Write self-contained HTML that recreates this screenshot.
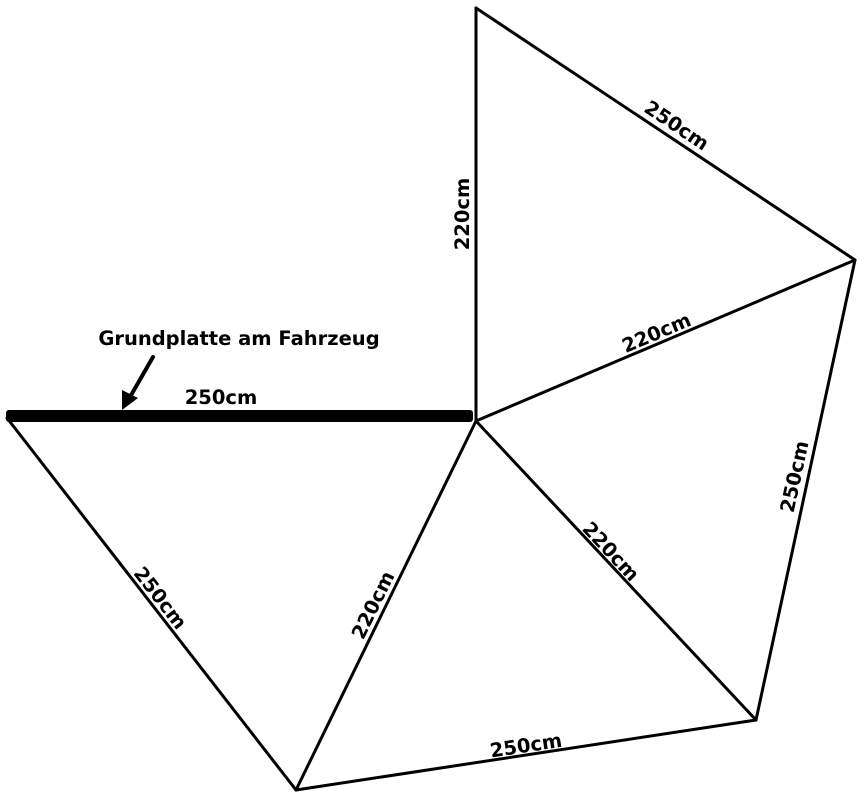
<!DOCTYPE html>
<html><head><meta charset="utf-8"><style>
html,body{margin:0;padding:0;background:#fff;}
svg{display:block;}
text{font-family:"DejaVu Sans","Liberation Sans",sans-serif;font-weight:bold;font-size:19.5px;fill:#000;}
</style></head><body>
<svg width="864" height="800" viewBox="0 0 864 800" xmlns="http://www.w3.org/2000/svg">
<g stroke="#000" stroke-width="3" fill="none" stroke-linejoin="round" stroke-linecap="round">
<line x1="476" y1="8" x2="476" y2="421"/>
<line x1="476" y1="8" x2="855" y2="260"/>
<line x1="476" y1="421" x2="855" y2="260"/>
<line x1="855" y1="260" x2="756" y2="720"/>
<line x1="476" y1="421" x2="756" y2="720"/>
<line x1="476" y1="421" x2="296" y2="790"/>
<line x1="7" y1="418" x2="296" y2="790"/>
<line x1="296" y1="790" x2="756" y2="720"/>
<line x1="153" y1="357" x2="130" y2="397" stroke-width="4"/>
</g>
<rect x="6" y="410" width="467" height="12" rx="3" fill="#000"/>
<polygon points="122,410 122,390 138,398" fill="#000"/>
<text x="239" y="345" text-anchor="middle">Grundplatte am Fahrzeug</text>
<text x="221" y="404" text-anchor="middle">250cm</text>
<text transform="translate(469,214) rotate(-90)" text-anchor="middle">220cm</text>
<text transform="translate(673,131) rotate(33.6)" text-anchor="middle">250cm</text>
<text transform="translate(659,339) rotate(-22.9)" text-anchor="middle">220cm</text>
<text transform="translate(801,478) rotate(-77.9)" text-anchor="middle">250cm</text>
<text transform="translate(606,556) rotate(47)" text-anchor="middle">220cm</text>
<text transform="translate(379,608) rotate(-64)" text-anchor="middle">220cm</text>
<text transform="translate(155,602) rotate(52.2)" text-anchor="middle">250cm</text>
<text transform="translate(527,752) rotate(-8.7)" text-anchor="middle">250cm</text>
</svg>
</body></html>
